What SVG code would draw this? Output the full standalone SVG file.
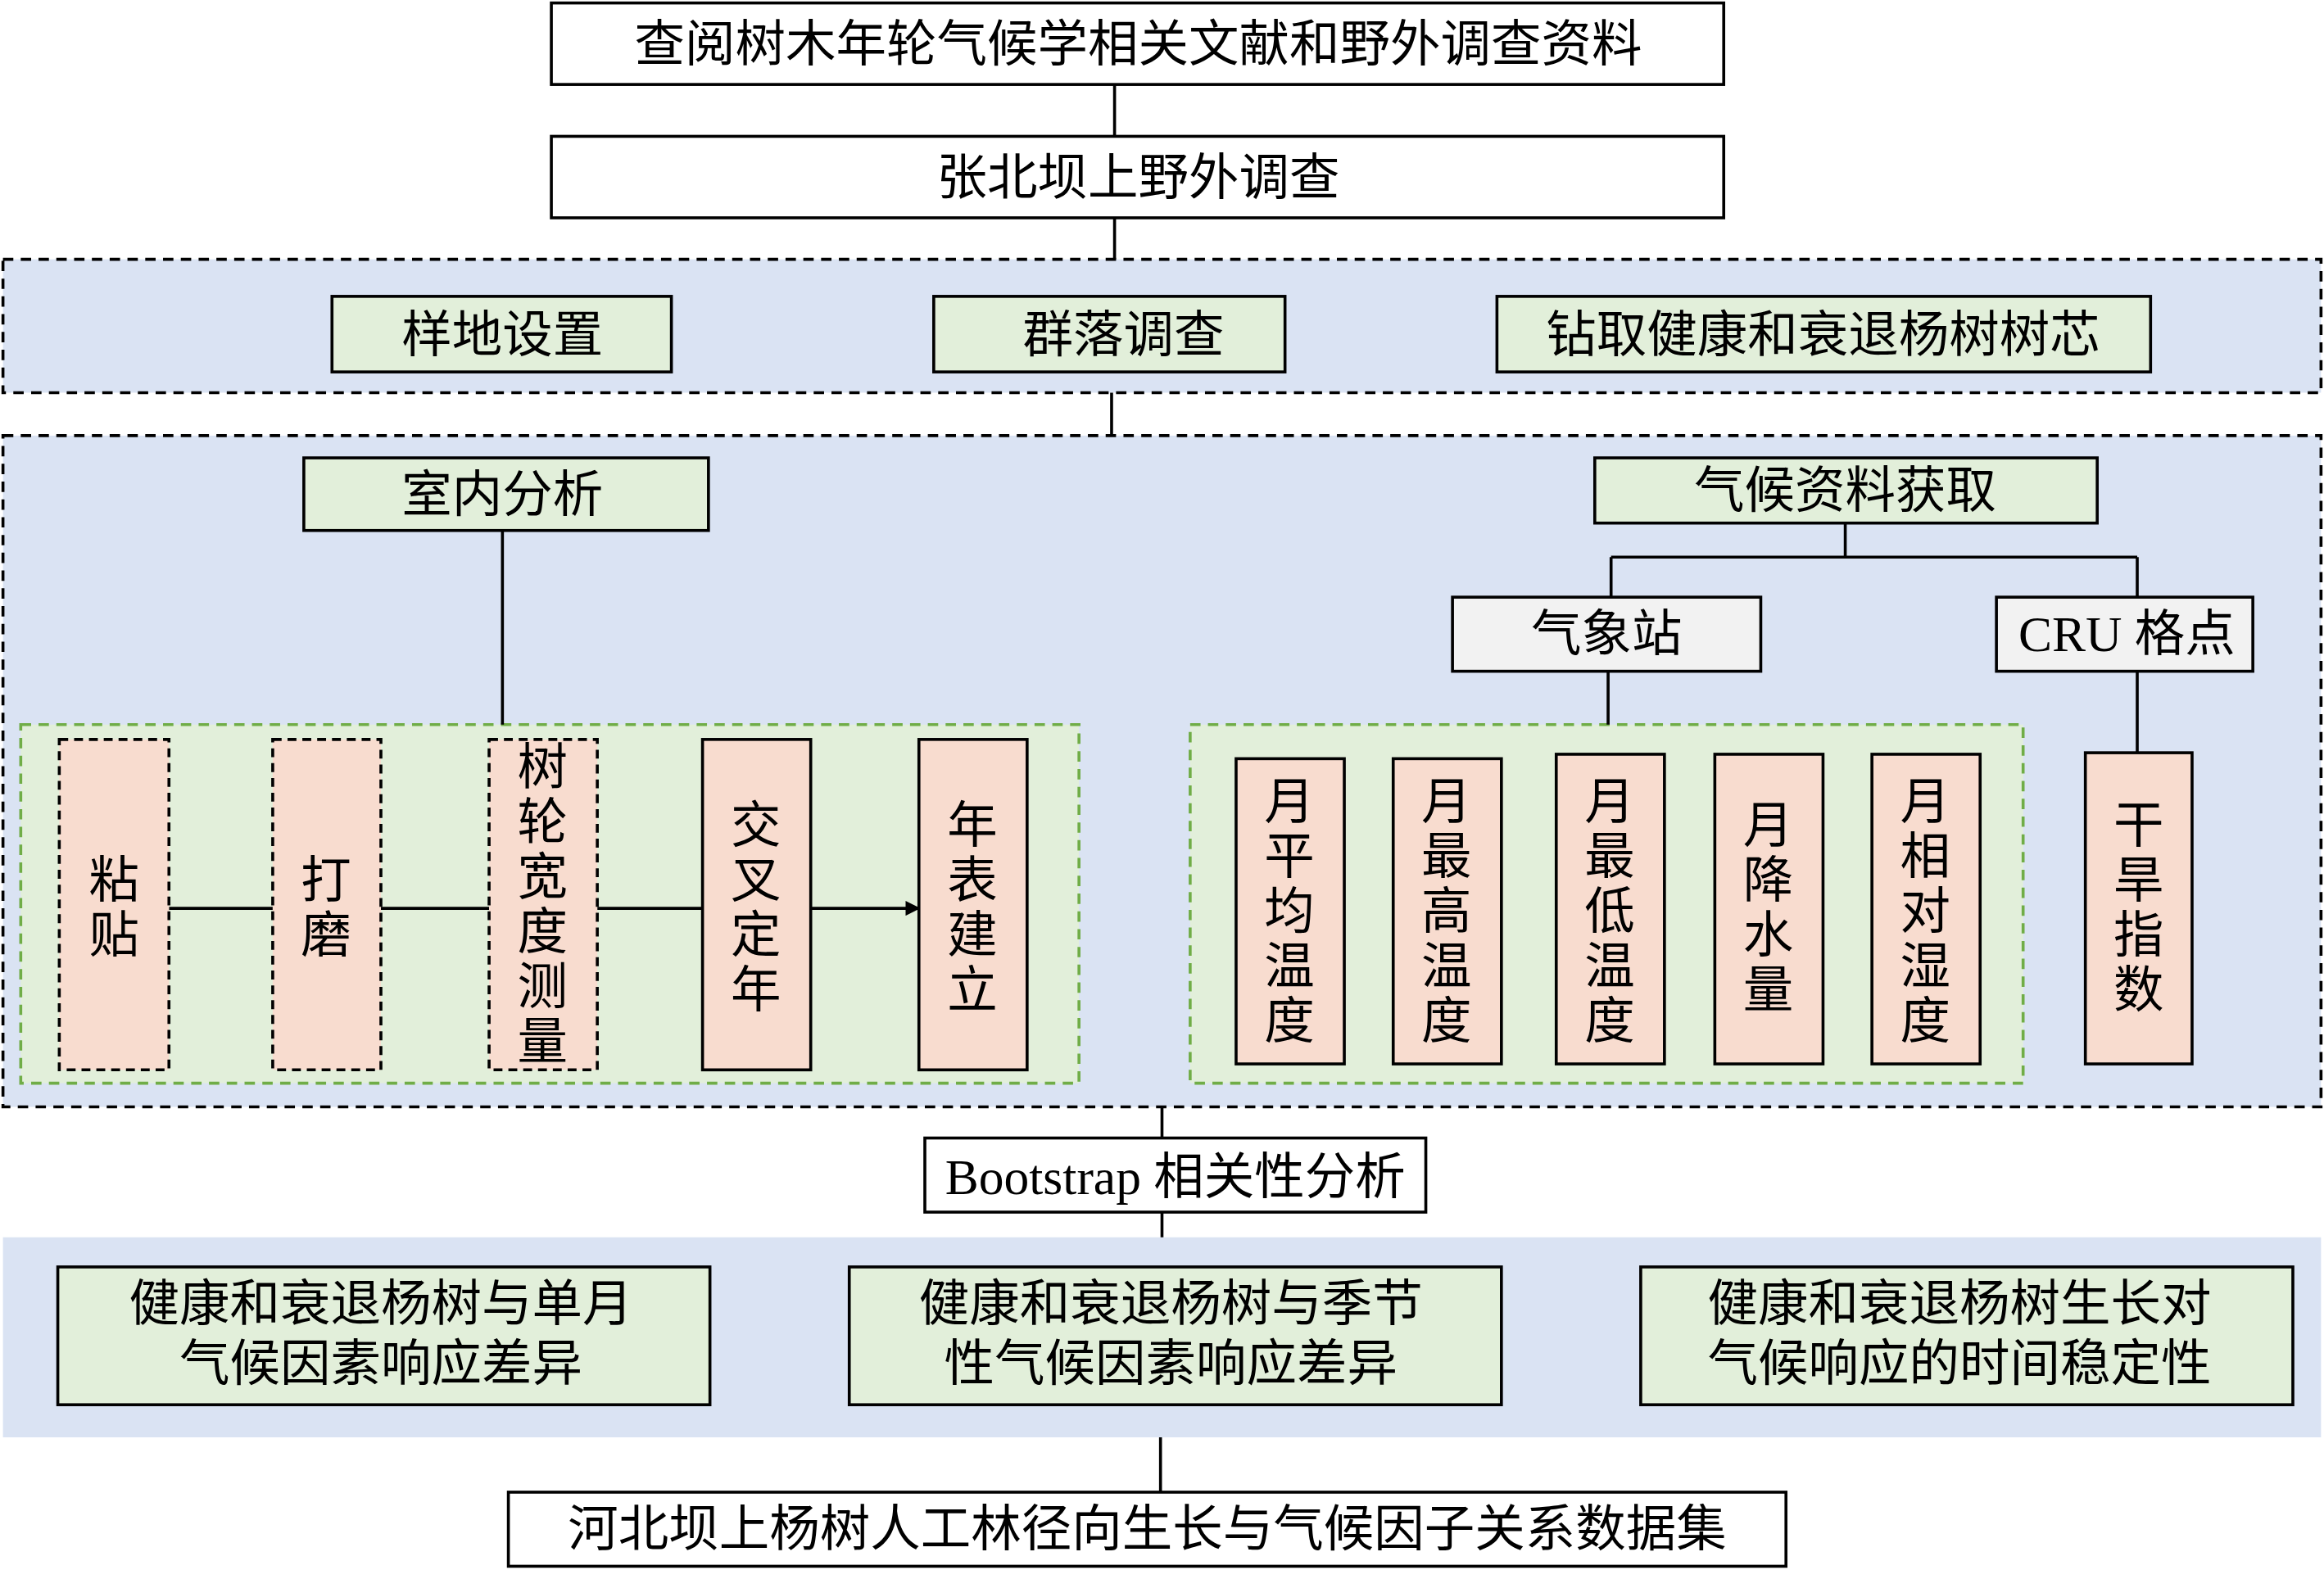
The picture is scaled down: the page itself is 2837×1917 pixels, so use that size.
<svg xmlns="http://www.w3.org/2000/svg" width="2837" height="1917" viewBox="0 0 2837 1917">
<style>
text{font-family:"Liberation Serif","Noto Sans CJK SC",serif;font-size:34px;fill:#000;text-anchor:middle;dominant-baseline:central}
.w{fill:#fff;stroke:#000;stroke-width:2}
.g{fill:#e2efda;stroke:#000;stroke-width:2}
.p{fill:#f8dccf;stroke:#000;stroke-width:2}
.pd{fill:#f8dccf;stroke:#000;stroke-width:2;stroke-dasharray:6,4}
.bl{fill:#dae3f3;stroke:#000;stroke-width:2;stroke-dasharray:7,5}
.gp{fill:#e2efda;stroke:#70ad47;stroke-width:2;stroke-dasharray:7,5}
.l{stroke:#000;stroke-width:2;fill:none}
</style>
<defs><marker id="a" markerWidth="10" markerHeight="10" refX="9" refY="5" orient="auto" markerUnits="userSpaceOnUse"><path d="M0,0 L10,5 L0,10z" fill="#000"/></marker></defs>
<rect width="2837" height="1917" fill="#fff"/>
<g transform="scale(1.8093)">
<g id="panels">
<rect class="bl" x="2" y="175" width="1564" height="90"/>
<rect class="bl" x="2" y="294" width="1564" height="453"/>
<rect x="2" y="835" width="1564" height="135" fill="#dae3f3"/>
<rect class="gp" x="14" y="489" width="714" height="242"/>
<rect class="gp" x="803" y="489" width="562" height="242"/>
</g>
<g id="connectors">
<path class="l" d="M752 57V92M752 147V175M750 265V294M339 358V489M1245 353V376M1087 376H1442M1087 376V403M1442 376V403M1085 453V489M1442 453V508M784 747V768M784 818V835M783 970V1007"/>
<path class="l" marker-end="url(#a)" d="M114 613H184M257 613H330M403 613H474M547 613H620"/>
</g>
<g id="n1"><rect class="w" x="372" y="2" width="791" height="55"/><text x="768" y="30">查阅树木年轮气候学相关文献和野外调查资料</text></g>
<g id="n2"><rect class="w" x="372" y="92" width="791" height="55"/><text x="768" y="120">张北坝上野外调查</text></g>
<g id="n3"><rect class="g" x="224" y="200" width="229" height="51"/><text x="339" y="226">样地设置</text></g>
<g id="n4"><rect class="g" x="630" y="200" width="237" height="51"/><text x="758" y="226">群落调查</text></g>
<g id="n5"><rect class="g" x="1010" y="200" width="441" height="51"/><text x="1230" y="226">钻取健康和衰退杨树树芯</text></g>
<g id="n6"><rect class="g" x="205" y="309" width="273" height="49"/><text x="339" y="334">室内分析</text></g>
<g id="n7"><rect class="g" x="1076" y="309" width="339" height="44"/><text x="1245" y="331">气候资料获取</text></g>
<g id="n8"><rect x="980" y="403" width="208" height="50" fill="#f2f2f2" stroke="#000" stroke-width="2"/><text x="1084" y="428">气象站</text></g>
<g id="n9"><rect x="1347" y="403" width="173" height="50" fill="#f2f2f2" stroke="#000" stroke-width="2"/><text x="1435" y="428">CRU 格点</text></g>
<g id="v1"><rect class="pd" x="40" y="499" width="74" height="223"/><text x="77" y="594">粘</text><text x="77" y="631">贴</text></g>
<g id="v2"><rect class="pd" x="184" y="499" width="73" height="223"/><text x="220" y="594">打</text><text x="220" y="631">磨</text></g>
<g id="v3"><rect class="pd" x="330" y="499" width="73" height="223"/><text x="366" y="518">树</text><text x="366" y="555">轮</text><text x="366" y="592">宽</text><text x="366" y="629">度</text><text x="366" y="666">测</text><text x="366" y="703">量</text></g>
<g id="v4"><rect class="p" x="474" y="499" width="73" height="223"/><text x="510" y="557">交</text><text x="510" y="594">叉</text><text x="510" y="631">定</text><text x="510" y="668">年</text></g>
<g id="v5"><rect class="p" x="620" y="499" width="73" height="223"/><text x="656" y="557">年</text><text x="656" y="594">表</text><text x="656" y="631">建</text><text x="656" y="668">立</text></g>
<g id="m1"><rect class="p" x="834" y="512" width="73" height="206"/><text x="870" y="541">月</text><text x="870" y="578">平</text><text x="870" y="615">均</text><text x="870" y="652">温</text><text x="870" y="689">度</text></g>
<g id="m2"><rect class="p" x="940" y="512" width="73" height="206"/><text x="976" y="541">月</text><text x="976" y="578">最</text><text x="976" y="615">高</text><text x="976" y="652">温</text><text x="976" y="689">度</text></g>
<g id="m3"><rect class="p" x="1050" y="509" width="73" height="209"/><text x="1086" y="541">月</text><text x="1086" y="578">最</text><text x="1086" y="615">低</text><text x="1086" y="652">温</text><text x="1086" y="689">度</text></g>
<g id="m4"><rect class="p" x="1157" y="509" width="73" height="209"/><text x="1193" y="557">月</text><text x="1193" y="594">降</text><text x="1193" y="631">水</text><text x="1193" y="668">量</text></g>
<g id="m5"><rect class="p" x="1263" y="509" width="73" height="209"/><text x="1299" y="541">月</text><text x="1299" y="578">相</text><text x="1299" y="615">对</text><text x="1299" y="652">湿</text><text x="1299" y="689">度</text></g>
<g id="m6"><rect class="p" x="1407" y="508" width="72" height="210"/><text x="1443" y="557">干</text><text x="1443" y="594">旱</text><text x="1443" y="631">指</text><text x="1443" y="668">数</text></g>
<g id="bs"><rect class="w" x="624" y="768" width="338" height="50"/><text x="793" y="794">Bootstrap 相关性分析</text></g>
<g id="r1"><rect class="g" x="39" y="855" width="440" height="93"/><text x="257" y="880">健康和衰退杨树与单月</text><text x="257" y="920">气候因素响应差异</text></g>
<g id="r2"><rect class="g" x="573" y="855" width="440" height="93"/><text x="790" y="880">健康和衰退杨树与季节</text><text x="790" y="920">性气候因素响应差异</text></g>
<g id="r3"><rect class="g" x="1107" y="855" width="440" height="93"/><text x="1322" y="880">健康和衰退杨树生长对</text><text x="1322" y="920">气候响应的时间稳定性</text></g>
<g id="fin"><rect class="w" x="343" y="1007" width="862" height="50"/><text x="774" y="1032">河北坝上杨树人工林径向生长与气候因子关系数据集</text></g>
</g>
</svg>
